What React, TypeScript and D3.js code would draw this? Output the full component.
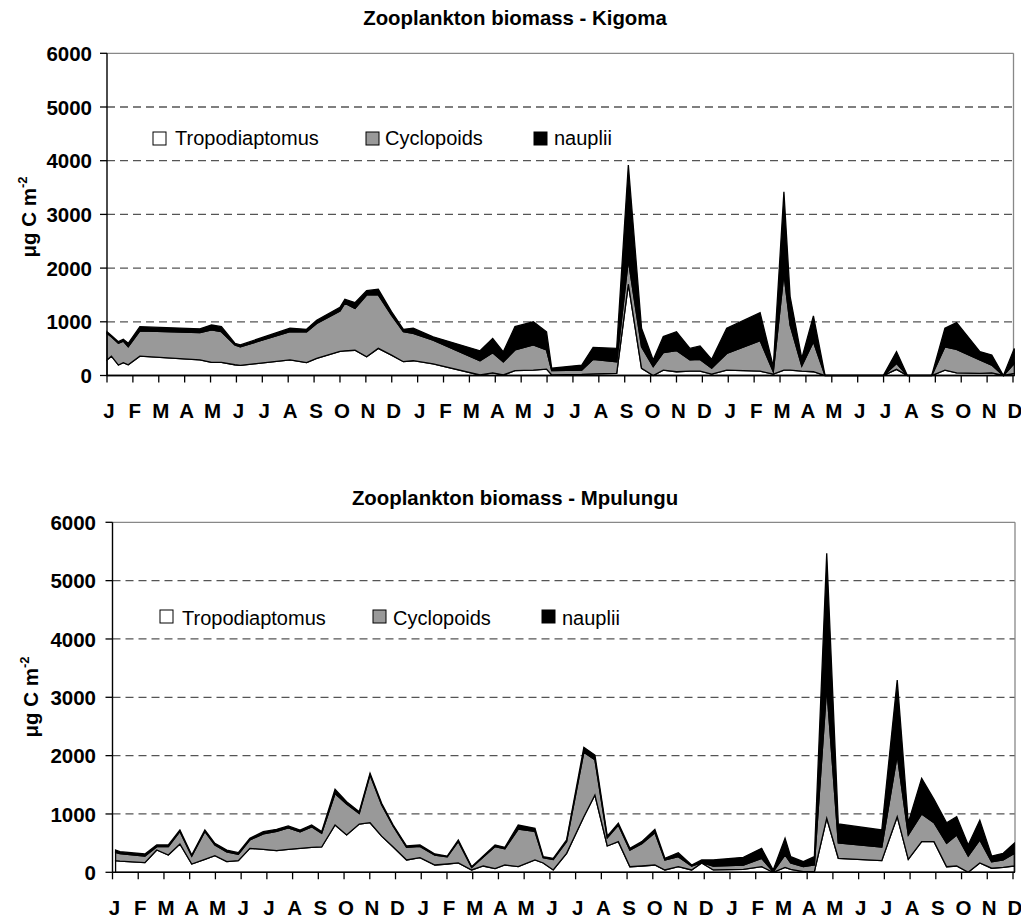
import React from 'react';
import * as d3 from 'd3';

const monthLabels = [
  'J','F','M','A','M','J','J','A','S','O','N','D',
  'J','F','M','A','M','J','J','A','S','O','N','D',
  'J','F','M','A','M','J','J','A','S','O','N','D',
];
const yTicks = [0, 1000, 2000, 3000, 4000, 5000, 6000];
const seriesNames = ['Tropodiaptomus', 'Cyclopoids', 'nauplii'];
const seriesFill = ['#ffffff', '#999999', '#000000'];

// Kigoma: sampling time in months from first January, biomass per group
const kigomaMonth = [0.00,0.17,0.44,0.63,0.82,1.27,3.59,4.04,4.42,4.94,5.15,7.07,7.71,8.10,9.00,9.19,9.58,10.03,10.48,10.99,11.45,11.83,12.60,14.41,14.90,15.31,15.76,16.47,16.98,17.18,18.34,18.78,19.69,20.14,20.65,21.10,21.49,22.00,22.52,22.91,23.36,23.94,25.23,25.74,26.15,26.39,26.84,27.29,27.74,29.99,30.50,30.92,31.86,32.37,32.82,33.72,34.18,34.63,35.05];
const kigomaTropo = [290,360,195,240,200,360,290,245,245,200,190,290,240,320,450,460,470,350,505,380,257,275,215,10,50,10,90,100,120,10,20,30,40,1700,135,0,100,70,80,80,25,100,80,25,100,100,80,70,0,0,115,0,0,100,50,40,50,0,40];
const kigomaCyclo = [495,360,405,400,335,470,510,607,570,370,345,525,575,650,750,885,780,1150,995,745,558,510,445,265,375,245,385,470,355,80,80,270,215,450,400,165,325,395,210,220,110,310,570,45,1800,840,100,560,0,0,110,0,0,435,435,250,145,0,185];
const kigomaNaup = [30,25,30,35,65,80,70,88,95,30,35,65,45,60,70,75,105,80,105,65,45,95,60,185,265,185,435,430,340,45,95,225,250,1770,345,125,300,350,215,250,165,470,520,95,1520,530,140,480,0,0,220,0,0,345,500,155,185,0,280];

// Mpulungu
const mpulunguMonth = [0.12,0.29,1.26,1.72,2.17,2.62,3.08,3.59,3.98,4.44,4.89,5.34,5.86,6.38,6.83,7.29,7.74,8.13,8.65,9.10,9.59,10.01,10.46,10.91,11.43,11.95,12.53,13.01,13.44,13.96,14.41,14.87,15.25,15.77,16.42,16.74,17.13,17.65,18.32,18.75,19.23,19.66,20.11,20.57,21.08,21.47,21.99,22.51,22.90,23.35,24.52,25.23,25.68,26.14,26.36,26.85,27.28,27.76,28.21,29.90,30.50,30.93,31.45,31.93,32.42,32.81,33.26,33.71,34.17,34.62,35.05];
const mpulunguTropo = [199,190,165,382,297,485,142,222,285,182,199,411,394,370,394,411,428,434,811,640,828,850,620,434,211,250,125,142,160,40,108,62,125,96,211,160,40,325,953,1325,451,525,96,108,125,40,96,40,160,40,50,96,0,85,50,10,10,925,240,199,953,222,525,525,96,108,0,160,70,85,108];
const mpulunguCyclo = [141,130,115,58,143,215,138,478,185,168,111,144,266,330,366,284,352,236,539,530,182,820,540,356,219,195,170,123,370,45,152,378,280,644,489,90,180,205,1107,605,139,285,284,382,555,171,172,68,5,68,75,144,10,212,110,86,115,2257,262,235,1057,418,475,325,401,532,279,394,112,126,217];
const mpulunguNaup = [42,33,34,28,28,25,17,25,27,32,27,28,37,37,34,30,31,27,73,41,29,27,23,21,21,23,19,14,24,11,19,28,23,71,54,18,20,24,82,80,30,30,31,35,57,29,69,17,46,103,132,171,30,286,108,86,143,2288,326,291,1286,210,611,400,353,313,189,337,97,114,172];

const FONT = 'Liberation Sans, Arial, Helvetica, sans-serif';

type Cfg = {
  left: number; right: number; top: number; bottom: number; borderRight: number;
  title: string; titleY: number; titleX: number;
  ylabX: number; ylabY: number; tickEnd: number; monthY: number;
  legSqTop: number; legTextY: number; legSqX: number[]; legTextX: number[];
};

function Panel({ cfg, months, tropo, cyclo, naup }: { cfg: Cfg; months: number[]; tropo: number[]; cyclo: number[]; naup: number[] }) {
  const x = d3.scaleLinear().domain([0, 35]).range([cfg.left, cfg.right]);
  const y = d3.scaleLinear().domain([0, 6000]).range([cfg.bottom, cfg.top]);
  const rows = months.map((m, i) => ({ m, Tropodiaptomus: tropo[i], Cyclopoids: cyclo[i], nauplii: naup[i] }));
  const stacked = d3.stack<any>().keys(seriesNames)(rows);
  const area = d3.area<any>()
    .x((d: any) => x(d.data.m))
    .y0((d: any) => y(d[0]))
    .y1((d: any) => y(d[1]));
  const monthIdx = d3.range(0, 36);
  return (
    <g>
      <text x={cfg.titleX} y={cfg.titleY} textAnchor="middle" fontFamily={FONT} fontWeight="bold" fontSize={20.4}>{cfg.title}</text>
      {yTicks.filter(t => t > 0 && t < 6000).map(t => (
        <line key={'g' + t} x1={cfg.left} x2={cfg.borderRight} y1={y(t)} y2={y(t)} stroke="#555" strokeWidth={1.3} strokeDasharray="8,5" />
      ))}
      <line x1={cfg.left} x2={cfg.borderRight} y1={y(6000)} y2={y(6000)} stroke="#888" strokeWidth={1.3} />
      <line x1={cfg.borderRight} x2={cfg.borderRight} y1={y(6000)} y2={y(0)} stroke="#888" strokeWidth={1.3} />
      {stacked.map((layer: any, i: number) => (
        <path key={seriesNames[i]} d={area(layer) || ''} fill={seriesFill[i]} stroke="#000" strokeWidth={1.3} strokeLinejoin="miter" />
      ))}
      <line x1={cfg.left} x2={cfg.left} y1={y(6000)} y2={y(0)} stroke="#000" strokeWidth={1.4} />
      <line x1={cfg.left} x2={cfg.borderRight} y1={y(0)} y2={y(0)} stroke="#000" strokeWidth={1.4} />
      {yTicks.map(t => (
        <g key={'t' + t}>
          <line x1={cfg.left - 7} x2={cfg.left} y1={y(t)} y2={y(t)} stroke="#000" strokeWidth={1.3} />
          <text x={cfg.tickEnd} y={y(t)} dy="0.37em" textAnchor="end" fontFamily={FONT} fontWeight="bold" fontSize={20.5}>{t}</text>
        </g>
      ))}
      {monthIdx.map(i => (
        <g key={'m' + i}>
          <line x1={x(i)} x2={x(i)} y1={y(0)} y2={y(0) + 7} stroke="#000" strokeWidth={1.3} />
          <text x={x(i) + 2} y={cfg.monthY} textAnchor="middle" fontFamily={FONT} fontWeight="bold" fontSize={20.5}>{monthLabels[i]}</text>
        </g>
      ))}
      <text transform={`translate(${cfg.ylabX},${cfg.ylabY}) rotate(-90)`} textAnchor="middle" fontFamily={FONT} fontWeight="bold" fontSize={20.5}>
        μg C m<tspan dy={-9} fontSize={13}>-2</tspan>
      </text>
      {seriesNames.map((s, i) => (
        <g key={'l' + s}>
          <rect x={cfg.legSqX[i]} y={cfg.legSqTop} width={13} height={13} fill={seriesFill[i]} stroke="#000" strokeWidth={1} />
          <text x={cfg.legTextX[i]} y={cfg.legTextY} fontFamily={FONT} fontSize={20}>{s}</text>
        </g>
      ))}
    </g>
  );
}

const topCfg: Cfg = {
  left: 107, right: 1013, top: 53.3, bottom: 375.5, borderRight: 1013.5,
  title: 'Zooplankton biomass - Kigoma', titleY: 25, titleX: 515,
  ylabX: 36, ylabY: 217, tickEnd: 92, monthY: 418,
  legSqTop: 132, legTextY: 145, legSqX: [153, 366, 534], legTextX: [175, 385, 554],
};
const botCfg: Cfg = {
  left: 112.5, right: 1013, top: 522.3, bottom: 872.3, borderRight: 1015,
  title: 'Zooplankton biomass - Mpulungu', titleY: 505, titleX: 515,
  ylabX: 38, ylabY: 697, tickEnd: 96, monthY: 915,
  legSqTop: 610, legTextY: 625, legSqX: [160, 373, 542], legTextX: [182, 393, 562],
};

export default function App() {
  return (
    <svg width={1021} height={919} style={{ position: 'absolute', left: 0, top: 0, background: '#fff' }}>
      <rect x={0} y={0} width={1021} height={919} fill="#fff" />
      <Panel cfg={topCfg} months={kigomaMonth} tropo={kigomaTropo} cyclo={kigomaCyclo} naup={kigomaNaup} />
      <Panel cfg={botCfg} months={mpulunguMonth} tropo={mpulunguTropo} cyclo={mpulunguCyclo} naup={mpulunguNaup} />
    </svg>
  );
}
